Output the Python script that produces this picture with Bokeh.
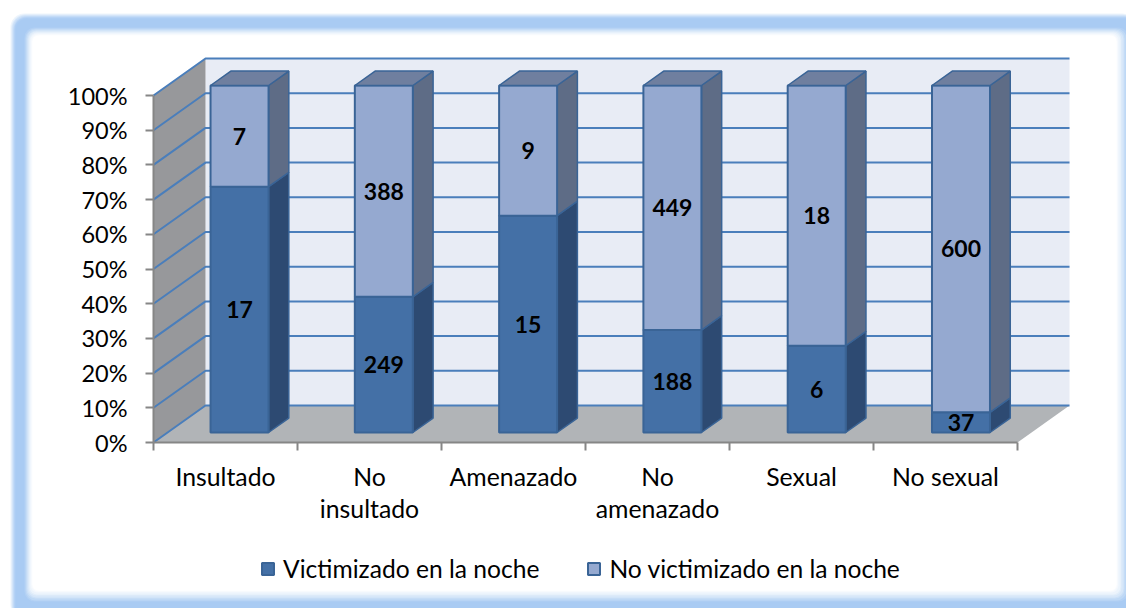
from bokeh.plotting import figure
from bokeh.embed import file_html
from bokeh.resources import INLINE
from bokeh.models import Range1d, FixedTicker, BoxAnnotation, Legend, LegendItem
from bokeh.core.properties import value

# ---- data ----
categories = ["Insultado", "No\ninsultado", "Amenazado", "No\namenazado", "Sexual", "No sexual"]
victimizado = [17, 249, 15, 188, 6, 37]
no_victimizado = [7, 388, 9, 449, 18, 600]
series_names = ["Victimizado en la noche", "No victimizado en la noche"]
y_ticks = [0, 10, 20, 30, 40, 50, 60, 70, 80, 90, 100]

# ---- style ----
FONT = "Lato"
W, H = 1126, 608
LEFT, BOTTOM = 153, 166
PX_X, PX_Y = 144.0, 3.47          # pixels per category / per percent
DX, DY = 52 / PX_X, 37 / PX_Y     # full depth of the 3-D box in data units
BAR_W = 58 / PX_X
BAR_STEP = 1.002                  # bars sit very slightly wider apart than the axis slots
D0, D1 = 0.27, 0.66               # depth span of the bars
N = len(categories)

def proj(x, pct, d):
    return x + d * DX, pct + d * DY

def quad(pts):
    xy = [proj(*q) for q in pts]
    return [a for a, _ in xy], [b for _, b in xy]

p = figure(width=W, height=H, output_backend="svg", toolbar_location=None,
           x_range=Range1d(-LEFT / PX_X, (W - LEFT) / PX_X),
           y_range=Range1d(-BOTTOM / PX_Y, (H - BOTTOM) / PX_Y),
           min_border_left=0, min_border_bottom=0, min_border_top=0, min_border_right=0,
           background_fill_color="white", border_fill_color="white", outline_line_color=None)
p.grid.visible = False

# ---- soft blue picture frame: (left, top, right, bottom, radius, colour) ----
frame_steps = [
    (10, 13, 1136, 618, 14, "#eef5fc"), (11, 14, 1136, 618, 14, "#dceafa"),
    (12, 15, 1136, 618, 13, "#cbe0f8"), (13, 16, 1136, 618, 13, "#bcd6f6"),
    (14, 17, 1136, 618, 12, "#aecef4"), (15, 18, 1136, 618, 12, "#a9cbf3"),
    (24, 27, 1128, 601, 10, "#b2d0f4"), (25, 28, 1126, 600, 10, "#bed8f5"),
    (26, 29, 1124, 598, 9, "#cbe0f7"), (27, 30, 1123, 597, 9, "#d7e7f9"),
    (28, 31, 1121, 595, 8, "#e2eefa"), (29, 32, 1120, 594, 8, "#ecf4fc"),
    (30, 33, 1118, 592, 7, "#f4f8fd"), (31, 34, 1117, 591, 7, "#fafcfe"),
    (32, 35, 1116, 590, 6, "#ffffff"),
]
for l, t, r, b, rad, c in frame_steps:
    p.add_layout(BoxAnnotation(left=l, right=r, top=t, bottom=b,
                               left_units="canvas", right_units="canvas",
                               top_units="canvas", bottom_units="canvas",
                               fill_color=c, fill_alpha=1, line_color=None, border_radius=rad,
                               level="underlay"))

# ---- walls and floor ----
p.patch(*quad([(0, 0, 1), (N, 0, 1), (N, 100, 1), (0, 100, 1)]), fill_color="#e8ecf5", line_color=None)
p.patch(*quad([(0, 0, 0), (0, 0, 1), (0, 100, 1), (0, 100, 0)]), fill_color="#97989b", line_color=None)
p.patch(*quad([(0, 0, 0), (N, 0, 0), (N, 0, 1), (0, 0, 1)]), fill_color="#b1b4b7", line_color=None)

# ---- gridlines over side and back walls ----
gx, gy = [], []
for t in y_ticks:
    xs, ys = quad([(0, t, 0), (0, t, 1), (N, t, 1)])
    gx.append(xs)
    gy.append(ys)
p.multi_line(gx, gy, line_color="#4a7ebb", line_width=2)

# ---- bars ----
EDGE = "#3a6496"
totals = [a + b for a, b in zip(victimizado, no_victimizado)]
v_pct = [100 * a / t for a, t in zip(victimizado, totals)]
bases = [[0] * N, v_pct]
tops = [v_pct, [100] * N]
front_cols = ["#4470a6", "#95a9d0"]
side_cols = ["#2d4a72", "#5e6c86"]
top_col = "#6f7f9f"
front_rs = []

def bar_center(i):
    return 0.5 + i * BAR_STEP

for s in range(2):
    fx, fy, sx, sy = [], [], [], []
    for i in range(N):
        x0, x1 = bar_center(i) - BAR_W / 2, bar_center(i) + BAR_W / 2
        b, t = bases[s][i], tops[s][i]
        a, c = quad([(x0, b, D0), (x1, b, D0), (x1, t, D0), (x0, t, D0)])
        fx.append(a); fy.append(c)
        a, c = quad([(x1, b, D0), (x1, b, D1), (x1, t, D1), (x1, t, D0)])
        sx.append(a); sy.append(c)
    p.patches(sx, sy, fill_color=side_cols[s], line_color=EDGE, line_width=1.5)
    front_rs.append(p.patches(fx, fy, fill_color=front_cols[s], line_color=EDGE, line_width=2))

tx, ty = [], []
for i in range(N):
    x0, x1 = bar_center(i) - BAR_W / 2, bar_center(i) + BAR_W / 2
    a, c = quad([(x0, 100, D0), (x1, 100, D0), (x1, 100, D1), (x0, 100, D1)])
    tx.append(a); ty.append(c)
p.patches(tx, ty, fill_color=top_col, line_color=EDGE, line_width=1.5)

# ---- data labels ----
lx, ly, lt = [], [], []
for s, vals in enumerate([victimizado, no_victimizado]):
    for i in range(N):
        x, y = proj(bar_center(i), (bases[s][i] + tops[s][i]) / 2, D0)
        lx.append(x); ly.append(y); lt.append(str(vals[i]))
p.text(lx, ly, lt, text_font=value(FONT), text_font_style="bold", text_font_size="23px",
       text_align="center", text_baseline="middle", text_color="black")

# ---- axes ----
AXIS_COL = "#868686"
ya = p.yaxis[0]
ya.fixed_location = 0
ya.ticker = FixedTicker(ticks=y_ticks)
ya.major_label_overrides = {t: f"{t}%" for t in y_ticks}
ya.bounds = (0, 100)
ya.axis_line_color = AXIS_COL
ya.axis_line_width = 2
ya.major_tick_line_color = AXIS_COL
ya.major_tick_line_width = 2
ya.major_tick_out = 8
ya.major_tick_in = 0
ya.minor_tick_out = 0
ya.minor_tick_in = 0
ya.major_label_standoff = 18
ya.major_label_text_font = FONT
ya.major_label_text_font_size = "23.5px"
ya.major_label_text_color = "black"

centers = [i + 0.5 for i in range(N)]
xa = p.xaxis[0]
xa.fixed_location = 0
xa.ticker = FixedTicker(ticks=centers, minor_ticks=list(range(N + 1)))
xa.major_label_overrides = {c: l for c, l in zip(centers, categories)}
xa.bounds = (0, N)
xa.axis_line_color = AXIS_COL
xa.axis_line_width = 2
xa.major_tick_out = 0
xa.major_tick_in = 0
xa.minor_tick_line_color = AXIS_COL
xa.minor_tick_line_width = 2
xa.minor_tick_out = 8
xa.minor_tick_in = 0
xa.major_label_standoff = 11
xa.major_label_text_font = FONT
xa.major_label_text_font_size = "24.8px"
xa.major_label_text_color = "black"
xa.major_label_text_line_height = 1.13

# ---- legend ----
legend = Legend(items=[LegendItem(label=series_names[i], renderers=[front_rs[i]]) for i in range(2)],
                orientation="horizontal", location=(260, 25), padding=0, margin=0, spacing=47,
                glyph_width=15, glyph_height=15, label_standoff=8,
                label_text_font=FONT, label_text_font_size="24.6px", label_text_color="black",
                background_fill_alpha=0, border_line_color=None)
p.add_layout(legend, "center")

open("out.html", "w").write(file_html(p, INLINE))
